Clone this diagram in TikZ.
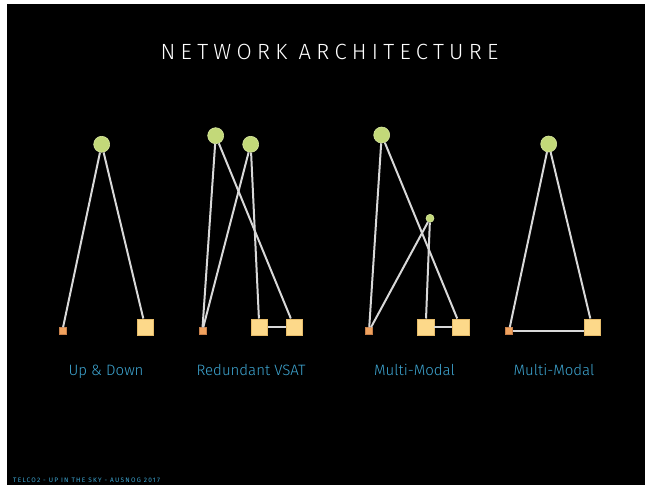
\documentclass[tikz,border=0pt]{standalone}
\usepackage{fontspec}
\setmainfont{Fira Sans Light}
\newfontfamily\footfont{Fira Sans}
\usetikzlibrary{positioning}
\definecolor{slide}{HTML}{000000}
\definecolor{satfill}{HTML}{C3D979}
\definecolor{satedge}{HTML}{D8E8A0}
\definecolor{termfill}{HTML}{F0A25E}
\definecolor{termedge}{HTML}{C8804A}
\definecolor{dishfill}{HTML}{FDD98A}
\definecolor{dishedge}{HTML}{E6BC6A}
\definecolor{linkgray}{HTML}{D8D8D8}
\definecolor{capblue}{HTML}{3EA6D2}
\tikzset{
	sat/.style={circle,fill=satfill,draw=satedge,line width=0.6pt,minimum size=16pt,inner sep=0pt},
	minisat/.style={sat,minimum size=8pt},
	term/.style={rectangle,fill=termfill,draw=termedge,line width=0.4pt,minimum size=7pt,inner sep=0pt},
	dish/.style={rectangle,fill=dishfill,draw=dishedge,line width=0.5pt,minimum size=16.5pt,inner sep=0pt},
	link/.style={draw=linkgray,line width=2pt},
	caption/.style={text=capblue,font=\fontsize{15}{17}\selectfont,inner sep=0pt,anchor=base}
}

\begin{document}
\begin{tikzpicture}[x=1pt,y=-1pt]
		\useasboundingbox (0,0) rectangle (645,485);
		\fill[slide] (7,4) rectangle (645,485);

		\node[text=white,inner sep=0pt,anchor=base,font=\fontsize{22}{24}\selectfont\addfontfeatures{LetterSpace=24}] (title) at (329.5,59.3) {NETWORK ARCHITECTURE};

		\node[sat]  (sat1) at (101.7,144.3) {};
		\node[term] (ter1) at (62.3,331) {};
		\node[dish] (dsh1) at (145.3,327) {};
		\draw[link] (sat1) -- (ter1);
		\draw[link] (sat1) -- (dsh1);
		\node[caption] (cap1) at (106,375.5) {Up \& Down};

		\node[sat]  (sat2a) at (215.7,135.7) {};
		\node[sat]  (sat2b) at (250.7,144.3) {};
		\node[term] (ter2)  at (202.3,331) {};
		\node[dish] (dsh2a) at (259.3,327) {};
		\node[dish] (dsh2b) at (294.3,327) {};
		\draw[link] (sat2a) -- (ter2);
		\draw[link] (sat2a) -- (dsh2b);
		\draw[link] (sat2b) -- (ter2);
		\draw[link] (sat2b) -- (dsh2a);
		\draw[link] (dsh2a) -- (dsh2b);
		\node[caption] (cap2) at (251,375.5) {Redundant VSAT};

		\node[sat]     (sat3) at (381.7,135) {};
		\node[minisat] (uav3) at (430,218.3) {};
		\node[term]    (ter3)  at (369,331) {};
		\node[dish]    (dsh3a) at (425.7,327) {};
		\node[dish]    (dsh3b) at (460.7,327) {};
		\draw[link] (sat3) -- (ter3);
		\draw[link] (sat3) -- (dsh3b);
		\draw[link] (uav3) -- (ter3);
		\draw[link] (uav3) -- (dsh3a);
		\draw[link] (dsh3a) -- (dsh3b);
		\node[caption] (cap3) at (414.5,375.5) {Multi-Modal};

		\node[sat]  (sat4) at (548.7,144) {};
		\node[term] (ter4) at (509,331) {};
		\node[dish] (dsh4) at (592.3,327) {};
		\draw[link] (sat4) -- (ter4);
		\draw[link] (sat4) -- (dsh4);
		\draw[link] (ter4) -- (ter4 -| dsh4.west);
		\node[caption] (cap4) at (554,375.5) {Multi-Modal};

		\node[anchor=base west,text=capblue,inner sep=0pt,font=\footfont\fontsize{6.5}{7}\selectfont\addfontfeatures{LetterSpace=19}] (foot) at (13,482) {TELCO2 - UP IN THE SKY - AUSNOG 2017};
	\end{tikzpicture}
\end{document}
